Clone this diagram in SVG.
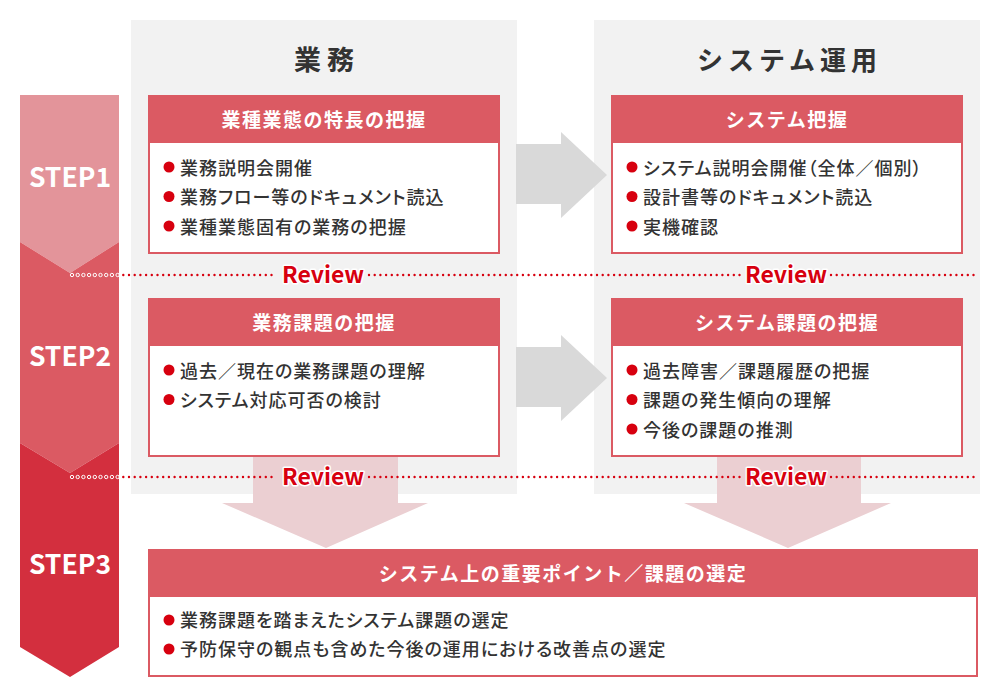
<svg xmlns="http://www.w3.org/2000/svg" width="1000" height="698" viewBox="0 0 1000 698">
<style>
text{font-family:"Noto Sans CJK JP","Noto Sans",sans-serif}
.title{font-size:27px;font-weight:700;fill:#333;text-anchor:middle}
.hdr{font-size:19px;font-weight:700;fill:#fff;text-anchor:middle;letter-spacing:1.5px}
.body{font-size:18px;font-weight:500;fill:#333;letter-spacing:1px;font-feature-settings:"palt"}
.step{font-size:26.5px;font-weight:700;fill:#fff;text-anchor:middle}
.rev{font-size:23px;font-weight:700;fill:#d7000f;text-anchor:middle;stroke:#fff;stroke-width:3;paint-order:stroke;stroke-linejoin:round}
.box{fill:#fff;stroke:#db5a63;stroke-width:2}
.hbar{fill:#db5a63}
.dot{fill:#d7000f}
.panel{fill:#f2f2f2}
.garrow{fill:#d9d9d9}
.parrow{fill:#ebcfd2}
.dots{stroke:#d7000f;stroke-width:2.4;stroke-linecap:round;stroke-dasharray:0 5.7;fill:none}
.wdots{stroke:#fff;stroke-width:1;fill:none}
</style>

<g id="panels">
<rect class="panel" x="131" y="20" width="386" height="474"/>
<rect class="panel" x="594" y="20" width="386" height="474"/>
<text class="title" x="327" y="70" style="letter-spacing:6px">業務</text>
<text class="title" x="789.5" y="70" style="font-size:26px;letter-spacing:5px">システム運用</text>
</g>

<g id="steps">
<polygon points="20,95 119,95 119,242 70,273 20,242" fill="#e3949a"/>
<polygon points="20,242 70,273 119,242 119,443 70,473 20,443" fill="#db5a63"/>
<polygon points="20,443 70,473 119,443 119,647 70,677 20,647" fill="#d32f3e"/>
<text class="step" x="70" y="187">STEP1</text>
<text class="step" x="70" y="366">STEP2</text>
<text class="step" x="70" y="574">STEP3</text>
</g>

<g id="connectors">
<polygon class="garrow" points="516,144 561,144 561,132 607,175 561,218 561,204 516,204"/>
<polygon class="garrow" points="516,347 561,347 561,335 607,378 561,421 561,407 516,407"/>
<polygon class="parrow" points="253,450 398,450 398,503 428,503 326,548 222,503 253,503"/>
<polygon class="parrow" points="717,450 861,450 861,503 891,503 788,548 684,503 717,503"/>
</g>

<g id="review-lines">
<g class="wdots">
<circle cx="72" cy="275" r="1.7"/><circle cx="77.7" cy="275" r="1.7"/><circle cx="83.4" cy="275" r="1.7"/><circle cx="89.1" cy="275" r="1.7"/><circle cx="94.8" cy="275" r="1.7"/><circle cx="100.5" cy="275" r="1.7"/><circle cx="106.2" cy="275" r="1.7"/><circle cx="111.9" cy="275" r="1.7"/><circle cx="117.6" cy="275" r="1.7"/>
<circle cx="72" cy="477" r="1.7"/><circle cx="77.7" cy="477" r="1.7"/><circle cx="83.4" cy="477" r="1.7"/><circle cx="89.1" cy="477" r="1.7"/><circle cx="94.8" cy="477" r="1.7"/><circle cx="100.5" cy="477" r="1.7"/><circle cx="106.2" cy="477" r="1.7"/><circle cx="111.9" cy="477" r="1.7"/><circle cx="117.6" cy="477" r="1.7"/>
</g>
<path class="dots" d="M123.3,275H276M369,275H742M831,275H979"/>
<path class="dots" d="M123.3,477H276M369,477H742M831,477H979"/>
<text class="rev" x="323" y="283">Review</text>
<text class="rev" x="786" y="283">Review</text>
<text class="rev" x="323" y="485">Review</text>
<text class="rev" x="786" y="485">Review</text>
</g>

<g id="box-gyomu-1">
<rect class="box" x="149" y="96" width="350" height="157"/>
<rect class="hbar" x="148" y="95" width="352" height="48"/>
<text class="hdr" x="324" y="127">業種業態の特長の把握</text>
<circle class="dot" cx="169" cy="167" r="5.5"/>
<circle class="dot" cx="169" cy="196.5" r="5.5"/>
<circle class="dot" cx="169" cy="226" r="5.5"/>
<text class="body" x="180" y="174.5">業務説明会開催</text>
<text class="body" x="180" y="204">業務フロー等のドキュメント読込</text>
<text class="body" x="180" y="233.5">業種業態固有の業務の把握</text>
</g>

<g id="box-system-1">
<rect class="box" x="612" y="96" width="350" height="157"/>
<rect class="hbar" x="611" y="95" width="352" height="48"/>
<text class="hdr" x="787" y="127">システム把握</text>
<circle class="dot" cx="632" cy="167" r="5.5"/>
<circle class="dot" cx="632" cy="196.5" r="5.5"/>
<circle class="dot" cx="632" cy="226" r="5.5"/>
<text class="body" x="643" y="174.5">システム説明会開催（全体／個別）</text>
<text class="body" x="643" y="204">設計書等のドキュメント読込</text>
<text class="body" x="643" y="233.5">実機確認</text>
</g>

<g id="box-gyomu-2">
<rect class="box" x="149" y="299" width="350" height="157"/>
<rect class="hbar" x="148" y="298" width="352" height="48"/>
<text class="hdr" x="324" y="330">業務課題の把握</text>
<circle class="dot" cx="169" cy="370" r="5.5"/>
<circle class="dot" cx="169" cy="399.5" r="5.5"/>
<text class="body" x="180" y="377.5">過去／現在の業務課題の理解</text>
<text class="body" x="180" y="407">システム対応可否の検討</text>
</g>

<g id="box-system-2">
<rect class="box" x="612" y="299" width="350" height="157"/>
<rect class="hbar" x="611" y="298" width="352" height="48"/>
<text class="hdr" x="787" y="330">システム課題の把握</text>
<circle class="dot" cx="632" cy="370" r="5.5"/>
<circle class="dot" cx="632" cy="399.5" r="5.5"/>
<circle class="dot" cx="632" cy="429" r="5.5"/>
<text class="body" x="643" y="377.5">過去障害／課題履歴の把握</text>
<text class="body" x="643" y="407">課題の発生傾向の理解</text>
<text class="body" x="643" y="436.5">今後の課題の推測</text>
</g>

<g id="box-step3">
<rect class="box" x="149" y="550" width="828" height="126"/>
<rect class="hbar" x="148" y="549" width="830" height="48"/>
<text class="hdr" x="563" y="581">システム上の重要ポイント／課題の選定</text>
<circle class="dot" cx="169" cy="620" r="5.5"/>
<circle class="dot" cx="169" cy="649" r="5.5"/>
<text class="body" x="180" y="627">業務課題を踏まえたシステム課題の選定</text>
<text class="body" x="180" y="656">予防保守の観点も含めた今後の運用における改善点の選定</text>
</g>
</svg>
